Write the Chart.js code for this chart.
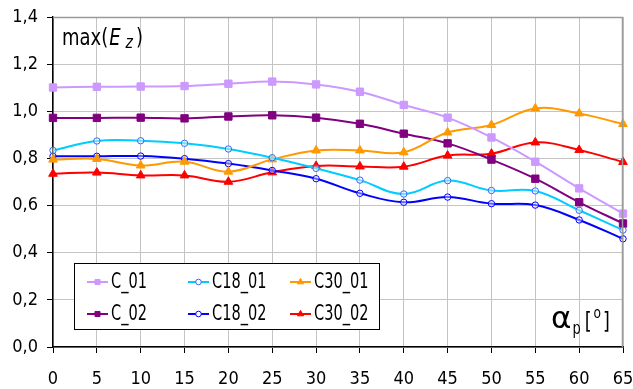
<!DOCTYPE html>
<html><head><meta charset="utf-8">
<script src="https://cdn.jsdelivr.net/npm/chart.js@4/dist/chart.umd.min.js"></script>
<style>html,body{margin:0;padding:0;background:#fff}#wrap{width:633px;height:389px}</style>
</head><body><div id="wrap"><canvas id="c" width="633" height="389"></canvas></div>
<script>
const categories = [0,5,10,15,20,25,30,35,40,45,50,55,60,65];
const C_01   = [1.101,1.104,1.105,1.107,1.117,1.126,1.114,1.083,1.027,0.973,0.889,0.786,0.673,0.566];
const C_02   = [0.972,0.972,0.973,0.970,0.978,0.983,0.973,0.947,0.905,0.864,0.795,0.714,0.614,0.524];
const C18_01 = [0.834,0.874,0.875,0.864,0.840,0.803,0.758,0.708,0.649,0.706,0.664,0.662,0.580,0.496];
const C18_02 = [0.809,0.809,0.810,0.799,0.778,0.749,0.714,0.652,0.614,0.636,0.608,0.602,0.539,0.459];
const C30_01 = [0.795,0.798,0.770,0.786,0.744,0.796,0.834,0.834,0.826,0.910,0.942,1.012,0.991,0.946];
const C30_02 = [0.735,0.740,0.728,0.728,0.701,0.741,0.768,0.766,0.765,0.812,0.820,0.868,0.836,0.785];
const yTicks = [0,0.2,0.4,0.6,0.8,1.0,1.2,1.4];
const yTitle = {pre:'max(', sym:'E', sub:'z', post:')'};
const xTitle = {sym:'\u03B1', sub:'p', unit:'o'};

const FONT = "'DejaVu Sans Condensed','DejaVu Sans',sans-serif";

function ds(label, data, color, style, ptBorder, ptFill){
  return {label, data, borderColor:color, backgroundColor:ptFill, pointBorderColor:ptBorder,
    pointBackgroundColor:ptFill, pointStyle:style, borderWidth:2, pointBorderWidth:1,
    pointRadius: style==='rect'?5.2:(style==='triangle'?5:3.2), tension:0.4, fill:false};
}
const datasets = [
  ds('C_01', C_01, '#CC99FF', 'rect', '#CC99FF', '#CC99FF'),
  ds('C18_01', C18_01, '#00CCFF', 'circle', '#3366FF', 'rgba(255,255,255,0.4)'),
  ds('C30_01', C30_01, '#FF9900', 'triangle', '#FF9900', '#FF9900'),
  ds('C_02', C_02, '#800080', 'rect', '#800080', '#800080'),
  ds('C18_02', C18_02, '#0000FF', 'circle', '#0000FF', 'rgba(255,255,255,0.4)'),
  ds('C30_02', C30_02, '#FF0000', 'triangle', '#FF0000', '#FF0000')
];

function narrowText(ctx, txt, x, y, sx){
  ctx.save(); ctx.translate(x, y); ctx.scale(sx, 1); ctx.fillText(txt, 0, 0); ctx.restore();
  return ctx.measureText(txt).width * sx;
}

const deco = {
  id:'deco',
  afterDatasetsDraw(chart){
    const ctx = chart.ctx, a = chart.chartArea;
    ctx.save();
    // top/right border
    ctx.strokeStyle = '#9a9a9a'; ctx.lineWidth = 1.5;
    ctx.beginPath(); ctx.moveTo(a.left, a.top+0.5); ctx.lineTo(a.right-0.5, a.top+0.5); ctx.lineTo(a.right-0.5, a.bottom); ctx.stroke();
    // y title
    ctx.fillStyle = '#000'; ctx.textBaseline = 'alphabetic'; ctx.textAlign = 'left';
    let x = a.left + 9, y = a.top + 28;
    ctx.font = "23px " + FONT; x += narrowText(ctx, yTitle.pre, x, y, 0.87) + 1;
    ctx.font = "italic 23px " + FONT; x += narrowText(ctx, yTitle.sym, x, y, 0.87) + 5;
    ctx.font = "italic 18px " + FONT; x += narrowText(ctx, yTitle.sub, x, y + 3, 0.87) + 3;
    ctx.font = "23px " + FONT; narrowText(ctx, yTitle.post, x, y, 0.87);
    // x title
    x = 551; y = 328;
    ctx.font = "31px 'DejaVu Sans',sans-serif"; x += narrowText(ctx, xTitle.sym, x, y, 1.0) + 1;
    ctx.font = "17px " + FONT; x += narrowText(ctx, xTitle.sub, x, y + 6, 0.85) + 4;
    ctx.font = "23px " + FONT; x += narrowText(ctx, '[', x, y + 1, 0.85) + 2;
    ctx.font = "16px " + FONT; x += narrowText(ctx, xTitle.unit, x, y - 10, 0.85) + 2;
    ctx.font = "23px " + FONT; narrowText(ctx, ']', x, y + 1, 0.85);
    // legend
    const L = {x:74.5, y:263.5, w:305, h:66};
    ctx.fillStyle = '#fff'; ctx.fillRect(L.x, L.y, L.w, L.h);
    ctx.strokeStyle = '#000'; ctx.lineWidth = 1; ctx.strokeRect(L.x, L.y, L.w, L.h);
    const colX = [87, 188, 290], rowY = [282, 314];
    chart.data.datasets.forEach((d, i) => {
      const cx = colX[i % 3], cy = rowY[Math.floor(i / 3)];
      ctx.strokeStyle = d.borderColor; ctx.lineWidth = 2;
      ctx.beginPath(); ctx.moveTo(cx, cy); ctx.lineTo(cx + 21, cy); ctx.stroke();
      ctx.fillStyle = d.pointStyle === 'circle' ? '#fff' : d.pointBackgroundColor;
      ctx.strokeStyle = d.pointBorderColor; ctx.lineWidth = 1;
      Chart.helpers.drawPoint(ctx, {pointStyle:d.pointStyle, radius:d.pointStyle==='circle'?2.8:3.6, borderWidth:1, rotation:0}, cx + 10.5, cy);
      ctx.fillStyle = '#000'; ctx.font = "21px " + FONT; ctx.textBaseline = 'middle';
      narrowText(ctx, d.label, cx + 24, cy + 1, 0.77);
    });
    ctx.restore();
  }
};

new Chart(document.getElementById('c'), {
  type:'line',
  data:{labels:categories, datasets},
  options:{
    responsive:false, animation:false, devicePixelRatio:1,
    layout:{padding:{top:17, right:10, left:0, bottom:0}},
    plugins:{legend:{display:false}, tooltip:{enabled:false}},
    scales:{
      x:{type:'category', offset:false,
        grid:{color:'#c4c4c4', lineWidth:1, tickColor:'#000', tickLength:6, drawTicks:true},
        border:{color:'#000', width:1.5},
        ticks:{color:'#000', font:{family:FONT, size:18}, padding:16, maxRotation:0, autoSkip:false},
        afterFit(s){ s.height = 42; s.paddingRight = 0; s.paddingLeft = 0; }
      },
      y:{min:0, max:1.4,
        grid:{color:(c)=> (Math.round(c.tick.value*10)%2===0 ? '#c4c4c4' : 'rgba(0,0,0,0)'), tickColor:'#000', tickLength:6, lineWidth:1},
        border:{color:'#000', width:1.5},
        ticks:{stepSize:0.1, color:'#000', font:{family:FONT, size:18}, padding:9,
          callback:(v)=>{ const t = yTicks.find(q=>Math.abs(q-v)<1e-6); return t===undefined ? '' : t.toFixed(1).replace('.', ','); }},
        afterFit(s){ s.width = 53; s.paddingTop = 0; s.paddingBottom = 0; }
      }
    }
  },
  plugins:[deco]
});
</script></body></html>
